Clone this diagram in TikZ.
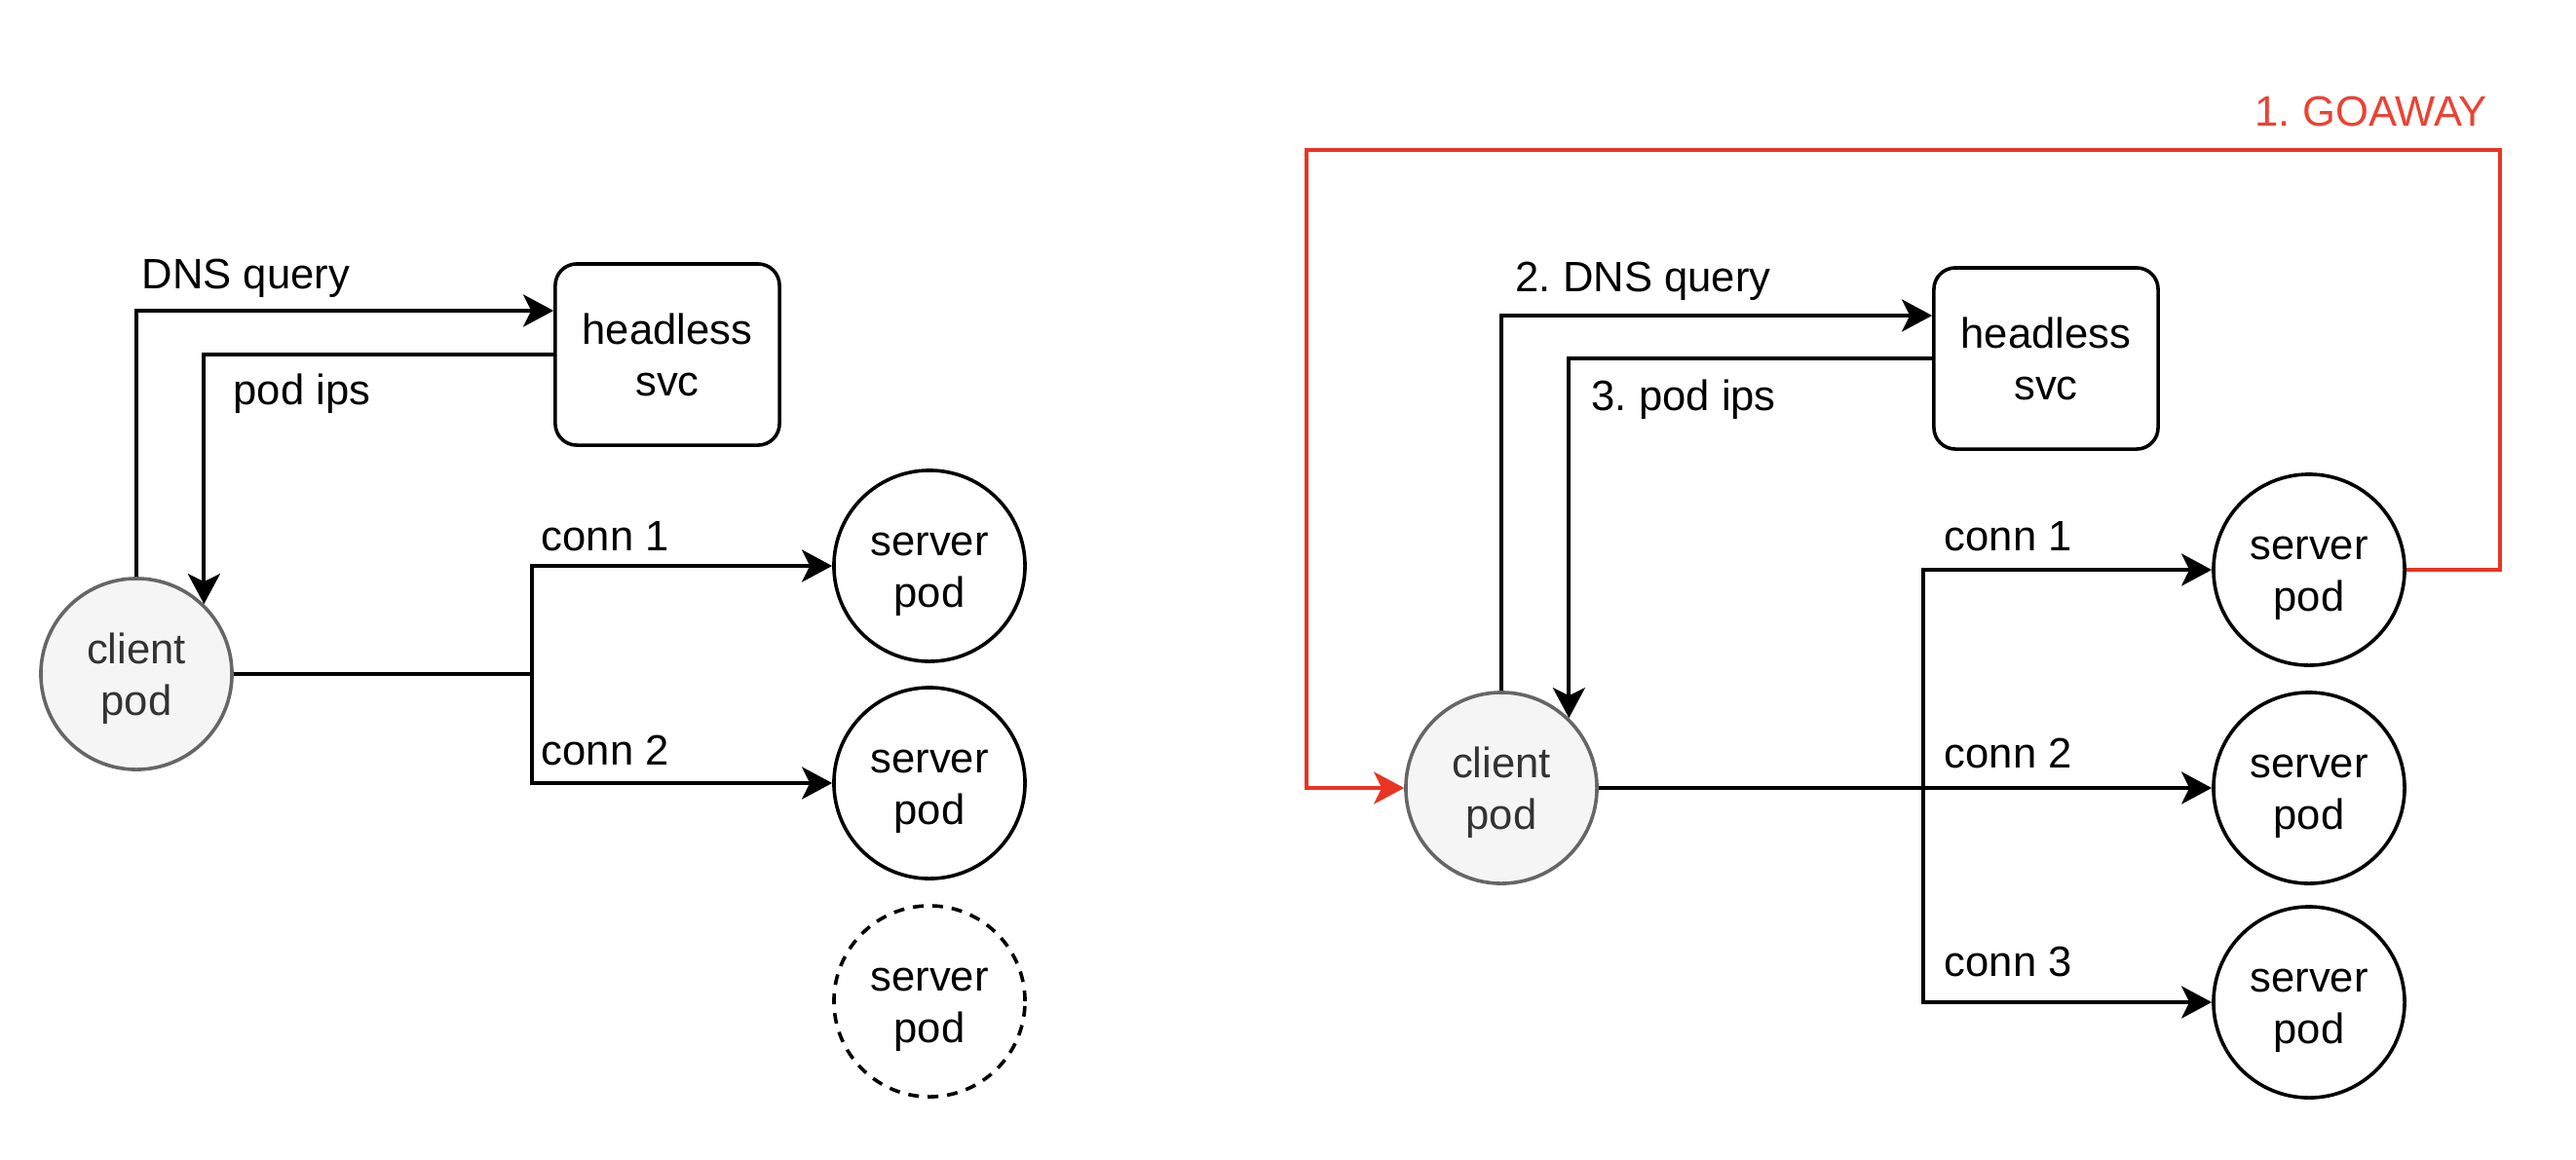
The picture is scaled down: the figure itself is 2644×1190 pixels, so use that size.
\documentclass[tikz,border=0pt]{standalone}
\usepackage{fontspec}
\setmainfont{Liberation Sans}
\usetikzlibrary{arrows.meta}
\frenchspacing
\definecolor{goared}{RGB}{234,51,35}
\definecolor{goatext}{RGB}{234,67,53}
\definecolor{clientfill}{HTML}{F5F5F5}
\definecolor{clientdraw}{HTML}{666666}
\definecolor{clienttext}{HTML}{333333}
\tikzset{
  base/.style={font=\fontsize{12.4pt}{14.9pt}\selectfont\frenchspacing},
  pod/.style={base,circle,draw=black,line width=0.036cm,minimum size=1.96cm,inner sep=0pt,align=center,text height=0.84cm,text depth=0pt},
  clientpod/.style={pod,draw=clientdraw,fill=clientfill,text=clienttext},
  ghostpod/.style={pod,dash pattern=on 0.11cm off 0.09cm},
  svcbox/.style={base,draw=black,line width=0.036cm,rounded corners=0.22cm,minimum width=2.30cm,minimum height=1.86cm,inner sep=0pt,align=center,text height=0.84cm,text depth=0pt},
  lbl/.style={base,anchor=base west,inner sep=0pt},
  conn/.style={line width=0.038cm,draw=black},
  arr/.style={conn,-{Stealth[length=0.31cm,width=0.33cm,inset=0.08cm]}},
  redarr/.style={line width=0.034cm,draw=goared,-{Stealth[length=0.31cm,width=0.33cm,inset=0.08cm]}}
}
\begin{document}
\begin{tikzpicture}[x=0.01cm,y=-0.01cm]
\useasboundingbox (0,0) rectangle (2644,1190);
% ---------- left ----------
\node[clientpod] (cl) at (140,692) {client\\pod};
\node[svcbox] (bl) at (685,364) {headless\\svc};
\node[pod] (s1l) at (954,581) {server\\pod};
\node[pod] (s2l) at (954,804) {server\\pod};
\node[ghostpod] (s3l) at (954,1028) {server\\pod};
\coordinate (jl) at (546,692);
\draw[arr] (cl.north) |- ([yshift=0.45cm]bl.west);
\draw[arr] (bl.west) -| (cl.46);
\draw[conn] (cl.east) -- (jl);
\draw[arr] (jl) |- (s1l.west);
\draw[arr] (jl) |- (s2l.west);
\node[lbl] (tdnsl) at (145,296) {DNS query};
\node[lbl] (tipsl) at (239,415) {pod ips};
\node[lbl] (tc1l) at (555,565) {conn 1};
\node[lbl] (tc2l) at (555,785) {conn 2};
% ---------- right ----------
\node[clientpod] (cr) at (1541,809) {client\\pod};
\node[svcbox] (br) at (2100,368) {headless\\svc};
\node[pod] (s1r) at (2370,585) {server\\pod};
\node[pod] (s2r) at (2370,809) {server\\pod};
\node[pod] (s3r) at (2370,1029) {server\\pod};
\coordinate (jr) at (1974,809);
\coordinate (r1) at (2566,154);
\coordinate (r2) at (1341,154);
\draw[arr] (cr.north) |- ([yshift=0.44cm]br.west);
\draw[arr] (br.west) -| (cr.46);
\draw[arr] (cr.east) -- (s2r.west);
\draw[arr] (jr) |- (s1r.west);
\draw[arr] (jr) |- (s3r.west);
\draw[redarr] (s1r.east) -| (r1) -- (r2) |- (cr.west);
\node[lbl] (tdnsr) at (1555,299) {2. DNS query};
\node[lbl] (tipsr) at (1633,421) {3. pod ips};
\node[lbl] (tc1r) at (1995,565) {conn 1};
\node[lbl] (tc2r) at (1995,788) {conn 2};
\node[lbl] (tc3r) at (1995,1002) {conn 3};
\node[lbl,text=goatext] (tgo) at (2314,129) {1. GOAWAY};
\end{tikzpicture}
\end{document}
